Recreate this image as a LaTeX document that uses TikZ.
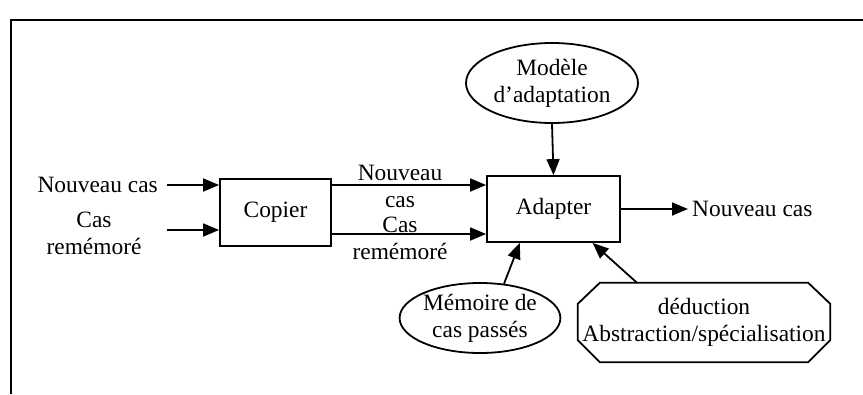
\documentclass[tikz,border=0pt]{standalone}
\usepackage{fontspec}
\setmainfont{Liberation Serif}
\usetikzlibrary{arrows.meta,shapes.geometric,calc}
\begin{document}
\begin{tikzpicture}[x=1pt,y=-1pt,
  every node/.style={font=\fontsize{23.4}{27}\selectfont, align=center},
  ln/.style={line width=1.8pt},
  arr/.style={ln,-{Triangle[length=16pt,width=13pt]}},
  box/.style={draw,ln,rectangle,inner sep=0pt},
  ell/.style={draw,ln,ellipse,inner sep=0pt},
  lab/.style={inner sep=0pt}]
\useasboundingbox (0,0) rectangle (863,394);
\draw[line width=2pt] (11,394) -- (11,20) -- (863,20);
\node[box,minimum width=111pt,minimum height=67pt] (copier) at (275.5,212.5) {Copier};
\node[box,minimum width=133pt,minimum height=66pt] (adapt) at (553.5,209) {Adapter};
\node[ell,minimum width=172pt,minimum height=80pt] (modele) at (552,83) {Modèle\\d’adaptation};
\node[ell,minimum width=154pt,minimum height=70pt] (mem) at (480,318) {Mémoire de\\cas passés};
\node[rectangle,minimum width=252pt,minimum height=79pt,inner sep=0pt] (ded) at (704,322.5) {déduction\\Abstraction/spécialisation};
\draw[ln,line join=miter] ($(ded.north west)+(22,0)$) -- ($(ded.north east)+(-22,0)$)
  -- ($(ded.north east)+(0,21)$) -- ($(ded.south east)+(0,-22)$)
  -- ($(ded.south east)+(-22,0)$) -- ($(ded.south west)+(22,0)$)
  -- ($(ded.south west)+(0,-22)$) -- ($(ded.north west)+(0,21)$) -- cycle;
\node[lab,anchor=east] (in1) at (158,185) {Nouveau cas};
\node[lab] (in2) at (94,233) {Cas\\remémoré};
\node[lab] (l1) at (400,186) {Nouveau\\cas};
\node[lab] (l2) at (400,238) {Cas\\remémoré};
\node[lab,anchor=west] (out) at (692,209) {Nouveau cas};
\coordinate (s1) at (167,185);
\coordinate (s2) at (167,230);
\coordinate (m2) at (331,234);
\draw[arr] (s1) -- (copier.west |- s1);
\draw[arr] (s2) -- (copier.west |- s2);
\draw[arr] (copier.east |- s1) -- (adapt.west |- s1);
\draw[arr] (m2) -- (adapt.west |- m2);
\draw[arr] (adapt.east) -- ([xshift=-4pt]out.west);
\draw[arr] (modele.south) -- (adapt.north);
\draw[arr] (mem.55) -- ($(adapt.south west)!0.25!(adapt.south east)$);
\draw[arr] ($(ded.north)+(-67,0)$) -- ($(adapt.south west)!0.79!(adapt.south east)$);
\end{tikzpicture}
\end{document}
